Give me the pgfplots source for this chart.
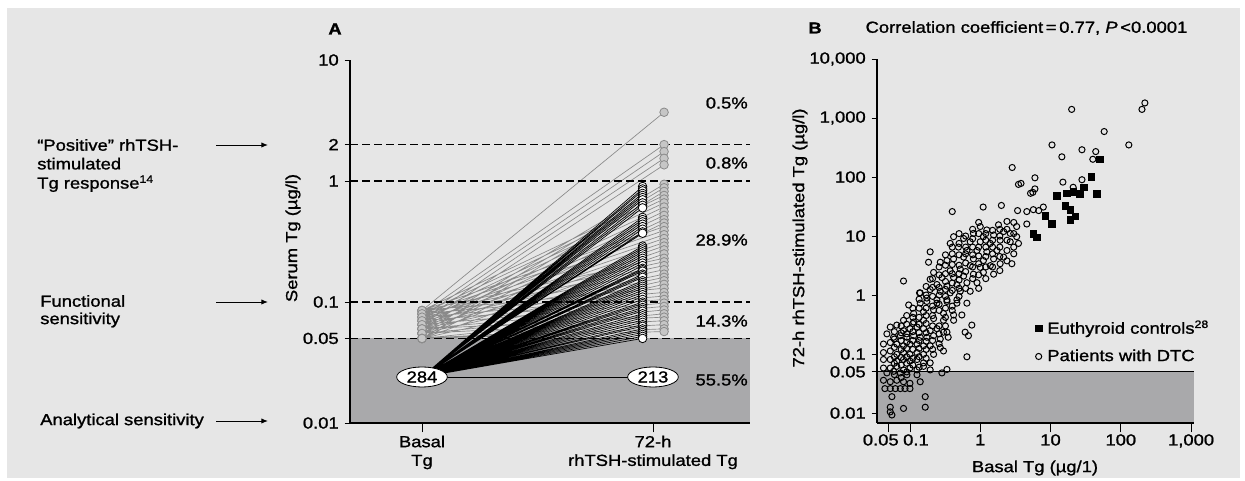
\documentclass[border=0pt]{standalone}
\usepackage{fontspec}
\setmainfont{Liberation Sans}[FakeStretch=1.15,FakeBold=1.2]
\usepackage{pgfplots}
\usepackage{pgfplotstable}
\pgfplotsset{compat=1.18}
\usetikzlibrary{shapes.geometric,arrows.meta}
\definecolor{panelbg}{HTML}{E6E6E6}
\definecolor{shade}{HTML}{A9A9AB}
\definecolor{gline}{HTML}{8A8A8A}
\definecolor{gfill}{HTML}{C6C6C6}
\newcommand\F{\fontsize{12}{14}\selectfont}

% Panel A: grey patients (basal detectable), pairs basal -> 72-h
\pgfplotstableread[row sep=\\]{
x y\\
0 0.085\\ 1.048 3.7\\ nan nan\\
0 0.08\\ 1.048 2.0\\ nan nan\\
0 0.075\\ 1.048 1.75\\ nan nan\\
0 0.07\\ 1.048 1.54\\ nan nan\\
0 0.065\\ 1.048 1.36\\ nan nan\\
0 0.06\\ 1.048 0.94\\ nan nan\\
0 0.055\\ 1.048 0.88\\ nan nan\\
0 0.05\\ 1.048 0.82\\ nan nan\\
0 0.085\\ 1.048 0.76\\ nan nan\\
0 0.08\\ 1.048 0.71\\ nan nan\\
0 0.075\\ 1.048 0.66\\ nan nan\\
0 0.07\\ 1.048 0.61\\ nan nan\\
0 0.065\\ 1.048 0.56\\ nan nan\\
0 0.06\\ 1.048 0.52\\ nan nan\\
0 0.055\\ 1.048 0.48\\ nan nan\\
0 0.05\\ 1.048 0.45\\ nan nan\\
0 0.085\\ 1.048 0.42\\ nan nan\\
0 0.08\\ 1.048 0.39\\ nan nan\\
0 0.075\\ 1.048 0.36\\ nan nan\\
0 0.07\\ 1.048 0.335\\ nan nan\\
0 0.065\\ 1.048 0.31\\ nan nan\\
0 0.06\\ 1.048 0.29\\ nan nan\\
0 0.055\\ 1.048 0.27\\ nan nan\\
0 0.05\\ 1.048 0.25\\ nan nan\\
0 0.085\\ 1.048 0.23\\ nan nan\\
0 0.08\\ 1.048 0.215\\ nan nan\\
0 0.075\\ 1.048 0.2\\ nan nan\\
0 0.07\\ 1.048 0.185\\ nan nan\\
0 0.065\\ 1.048 0.17\\ nan nan\\
0 0.06\\ 1.048 0.16\\ nan nan\\
0 0.055\\ 1.048 0.15\\ nan nan\\
0 0.05\\ 1.048 0.14\\ nan nan\\
0 0.085\\ 1.048 0.13\\ nan nan\\
0 0.08\\ 1.048 0.12\\ nan nan\\
0 0.075\\ 1.048 0.112\\ nan nan\\
0 0.07\\ 1.048 0.105\\ nan nan\\
0 0.065\\ 1.048 0.098\\ nan nan\\
0 0.06\\ 1.048 0.092\\ nan nan\\
0 0.055\\ 1.048 0.086\\ nan nan\\
0 0.05\\ 1.048 0.08\\ nan nan\\
0 0.06\\ 1.048 0.075\\ nan nan\\
0 0.055\\ 1.048 0.07\\ nan nan\\
0 0.05\\ 1.048 0.065\\ nan nan\\
0 0.05\\ 1.048 0.06\\ nan nan\\
0 0.05\\ 1.048 0.057\\ nan nan\\
}\greytab

% Panel A: black patients (basal undetectable), 0.024 -> 72-h
\pgfplotstableread[row sep=\\]{
x y\\
0 0.024\\ 0.955 0.90\\ nan nan\\
0 0.024\\ 0.955 0.86\\ nan nan\\
0 0.024\\ 0.955 0.83\\ nan nan\\
0 0.024\\ 0.955 0.79\\ nan nan\\
0 0.024\\ 0.955 0.76\\ nan nan\\
0 0.024\\ 0.955 0.73\\ nan nan\\
0 0.024\\ 0.955 0.70\\ nan nan\\
0 0.024\\ 0.955 0.66\\ nan nan\\
0 0.024\\ 0.955 0.63\\ nan nan\\
0 0.024\\ 0.955 0.60\\ nan nan\\
0 0.024\\ 0.955 0.50\\ nan nan\\
0 0.024\\ 0.955 0.48\\ nan nan\\
0 0.024\\ 0.955 0.46\\ nan nan\\
0 0.024\\ 0.955 0.44\\ nan nan\\
0 0.024\\ 0.955 0.42\\ nan nan\\
0 0.024\\ 0.955 0.40\\ nan nan\\
0 0.024\\ 0.955 0.38\\ nan nan\\
0 0.024\\ 0.955 0.37\\ nan nan\\
0 0.024\\ 0.955 0.29\\ nan nan\\
0 0.024\\ 0.955 0.28\\ nan nan\\
0 0.024\\ 0.955 0.27\\ nan nan\\
0 0.024\\ 0.955 0.26\\ nan nan\\
0 0.024\\ 0.955 0.25\\ nan nan\\
0 0.024\\ 0.955 0.24\\ nan nan\\
0 0.024\\ 0.955 0.23\\ nan nan\\
0 0.024\\ 0.955 0.22\\ nan nan\\
0 0.024\\ 0.955 0.21\\ nan nan\\
0 0.024\\ 0.955 0.20\\ nan nan\\
0 0.024\\ 0.955 0.19\\ nan nan\\
0 0.024\\ 0.955 0.185\\ nan nan\\
0 0.024\\ 0.955 0.18\\ nan nan\\
0 0.024\\ 0.955 0.17\\ nan nan\\
0 0.024\\ 0.955 0.165\\ nan nan\\
0 0.024\\ 0.955 0.16\\ nan nan\\
0 0.024\\ 0.955 0.15\\ nan nan\\
0 0.024\\ 0.955 0.145\\ nan nan\\
0 0.024\\ 0.955 0.14\\ nan nan\\
0 0.024\\ 0.955 0.135\\ nan nan\\
0 0.024\\ 0.955 0.13\\ nan nan\\
0 0.024\\ 0.955 0.125\\ nan nan\\
0 0.024\\ 0.955 0.12\\ nan nan\\
0 0.024\\ 0.955 0.115\\ nan nan\\
0 0.024\\ 0.955 0.11\\ nan nan\\
0 0.024\\ 0.955 0.105\\ nan nan\\
0 0.024\\ 0.955 0.10\\ nan nan\\
0 0.024\\ 0.955 0.097\\ nan nan\\
0 0.024\\ 0.955 0.094\\ nan nan\\
0 0.024\\ 0.955 0.09\\ nan nan\\
0 0.024\\ 0.955 0.087\\ nan nan\\
0 0.024\\ 0.955 0.084\\ nan nan\\
0 0.024\\ 0.955 0.08\\ nan nan\\
0 0.024\\ 0.955 0.077\\ nan nan\\
0 0.024\\ 0.955 0.074\\ nan nan\\
0 0.024\\ 0.955 0.071\\ nan nan\\
0 0.024\\ 0.955 0.068\\ nan nan\\
0 0.024\\ 0.955 0.065\\ nan nan\\
0 0.024\\ 0.955 0.063\\ nan nan\\
0 0.024\\ 0.955 0.06\\ nan nan\\
0 0.024\\ 0.955 0.058\\ nan nan\\
0 0.024\\ 0.955 0.056\\ nan nan\\
0 0.024\\ 0.955 0.054\\ nan nan\\
0 0.024\\ 0.955 0.052\\ nan nan\\
0 0.024\\ 0.955 0.05\\ nan nan\\
}\blacktab

% Panel B: patients with DTC
\pgfplotstableread[row sep=\\]{
x y\\
20 1400\\ 220 1800\\ 200 1400\\ 58 590\\ 130 350\\ 10.5 350\\ 28 290\\ 44 270\\
14.5 220\\ 40 200\\ 2.85 145\\ 6 97\\ 3.5 75\\ 3.8 78\\ 15 82\\ 28 90\\
6 63\\ 5.6 55\\ 5.2 53\\ 21 67\\ 1.1 31\\ 2 33\\ 0.4 26\\ 3.4 27\\
4.6 26\\ 5.7 28\\ 6.8 27\\ 7.9 31\\
1.0 14.5\\ 1.24 12.7\\ 1.82 15.5\\ 2.4 17.7\\ 3.3 14.5\\ 4.6 16\\ 2.15 11.9\\ 2.67 11.1\\
3.3 9.75\\ 1.55 10.4\\ 1.11 9.75\\ 0.80 11.1\\ 1.0 8.0\\ 1.39 7.5\\ 1.92 8.5\\ 2.67 8.0\\
3.5 7.5\\ 0.72 8.0\\ 0.58 9.1\\ 0.418 9.75\\ 0.374 7.5\\ 0.49 6.5\\ 0.646 5.7\\ 0.90 5.7\\
1.24 5.4\\ 1.73 5.7\\ 2.4 5.7\\ 2.15 4.4\\ 1.55 4.1\\ 1.11 3.85\\ 0.80 4.1\\ 0.58 4.4\\
0.418 4.1\\ 0.336 3.85\\ 0.27 3.6\\ 0.72 3.15\\ 1.0 2.95\\ 1.39 3.15\\ 1.92 3.4\\ 2.82 3.4\\
0.52 2.76\\ 0.374 2.58\\ 0.217 2.42\\ 0.285 1.98\\ 0.418 1.98\\ 0.58 2.1\\ 0.80 2.26\\ 1.11 2.42\\
1.55 2.26\\ 0.194 1.85\\ 0.242 1.51\\ 0.336 1.42\\ 0.466 1.51\\ 0.646 1.62\\ 0.90 1.62\\ 0.194 1.24\\
0.27 1.16\\ 0.374 1.09\\ 0.52 1.16\\ 0.72 1.16\\ 0.14 1.09\\ 0.174 0.89\\ 0.242 0.83\\ 0.336 0.83\\
0.466 0.83\\ 0.194 5.4\\ 0.184 3.6\\ 0.081 1.73\\ 0.137 1.09\\
0.096 0.68\\ 0.14 0.73\\ 0.174 0.78\\ 0.242 0.73\\ 0.336 0.78\\ 0.466 0.73\\ 0.646 0.73\\ 0.113 0.49\\
0.156 0.52\\ 0.217 0.56\\ 0.30 0.49\\ 0.418 0.46\\ 0.081 0.374\\ 0.113 0.35\\ 0.156 0.374\\ 0.217 0.40\\
0.30 0.374\\ 0.418 0.374\\ 0.548 0.46\\ 0.76 0.31\\ 0.61 0.235\\ 0.68 0.205\\ 0.336 0.235\\ 0.35 0.193\\
0.646 0.09\\ 0.336 0.055\\ 0.285 0.048\\ 0.0525 0.287\\ 0.065 0.31\\ 0.081 0.25\\ 0.10 0.27\\ 0.126 0.287\\
0.156 0.27\\ 0.194 0.25\\ 0.242 0.27\\ 0.30 0.235\\ 0.047 0.22\\ 0.0585 0.193\\ 0.073 0.205\\ 0.0905 0.193\\
0.113 0.205\\ 0.14 0.193\\ 0.174 0.193\\ 0.217 0.205\\ 0.27 0.18\\ 0.042 0.148\\ 0.0525 0.157\\ 0.065 0.148\\
0.081 0.138\\ 0.10 0.148\\ 0.126 0.148\\ 0.156 0.138\\ 0.194 0.138\\ 0.27 0.129\\ 0.042 0.106\\ 0.0525 0.113\\
0.065 0.099\\ 0.081 0.106\\ 0.10 0.099\\ 0.126 0.106\\ 0.156 0.099\\ 0.217 0.099\\ 0.30 0.113\\ 0.042 0.081\\
0.0525 0.081\\ 0.065 0.076\\ 0.081 0.081\\ 0.10 0.076\\ 0.126 0.081\\ 0.156 0.071\\ 0.194 0.071\\ 0.042 0.058\\
0.0525 0.058\\ 0.065 0.062\\ 0.081 0.054\\ 0.10 0.058\\ 0.126 0.054\\ 0.156 0.062\\ 0.194 0.054\\ 0.047 0.048\\
0.0585 0.051\\ 0.073 0.048\\ 0.0905 0.0446\\ 0.126 0.0446\\ 0.042 0.036\\ 0.0525 0.034\\ 0.065 0.036\\ 0.081 0.034\\
0.10 0.032\\ 0.14 0.034\\ 0.044 0.026\\ 0.0525 0.026\\ 0.062 0.026\\ 0.073 0.026\\ 0.085 0.026\\ 0.10 0.026\\
0.0554 0.019\\ 0.165 0.019\\ 0.0525 0.0126\\ 0.081 0.012\\ 0.165 0.0126\\ 0.0525 0.0105\\ 0.0554 0.0093\\
0.06 0.045\\ 0.06 0.07\\ 0.06 0.09\\ 0.06 0.13\\ 0.06 0.18\\ 0.06 0.24\\
0.075 0.04\\ 0.075 0.065\\ 0.075 0.088\\ 0.075 0.12\\ 0.075 0.17\\ 0.075 0.23\\ 0.075 0.3\\
0.09 0.05\\ 0.09 0.07\\ 0.09 0.09\\ 0.09 0.125\\ 0.09 0.16\\ 0.09 0.22\\ 0.09 0.32\\ 0.09 0.45\\
0.11 0.065\\ 0.11 0.085\\ 0.11 0.12\\ 0.11 0.17\\ 0.11 0.24\\ 0.11 0.33\\ 0.11 0.42\\ 0.11 0.6\\
0.135 0.06\\ 0.135 0.09\\ 0.135 0.125\\ 0.135 0.17\\ 0.135 0.23\\ 0.135 0.32\\ 0.135 0.42\\ 0.135 0.6\\ 0.135 0.85\\
0.17 0.085\\ 0.17 0.12\\ 0.17 0.165\\ 0.17 0.23\\ 0.17 0.33\\ 0.17 0.45\\ 0.17 0.6\\ 0.17 1.0\\ 0.17 1.4\\
0.21 0.12\\ 0.21 0.17\\ 0.21 0.3\\ 0.21 0.45\\ 0.21 0.65\\ 0.21 0.95\\ 0.21 1.35\\ 0.21 1.9\\
0.26 0.15\\ 0.26 0.22\\ 0.26 0.3\\ 0.26 0.55\\ 0.26 0.7\\ 0.26 1.0\\ 0.26 1.35\\ 0.26 2.2\\ 0.26 3.0\\
0.32 0.3\\ 0.32 0.42\\ 0.32 0.6\\ 0.32 0.95\\ 0.32 1.25\\ 0.32 1.7\\ 0.32 2.3\\ 0.32 3.2\\ 0.32 4.8\\
0.4 0.55\\ 0.4 0.65\\ 0.4 1.2\\ 0.4 1.6\\ 0.4 2.3\\ 0.4 3.3\\ 0.4 5.0\\ 0.4 6.5\\
0.5 0.95\\ 0.5 1.3\\ 0.5 1.8\\ 0.5 2.3\\ 0.5 3.2\\ 0.5 4.8\\ 0.5 7.5\\ 0.5 11\\
0.62 1.3\\ 0.62 2.5\\ 0.62 3.5\\ 0.62 5.0\\ 0.62 6.5\\ 0.62 10\\
0.78 1.9\\ 0.78 3.0\\ 0.78 4.8\\ 0.78 6.5\\ 0.78 9.0\\ 0.78 13\\
0.95 1.3\\ 0.95 2.2\\ 0.95 3.4\\ 0.95 4.6\\ 0.95 6.5\\ 0.95 11\\ 0.95 17\\
1.2 1.9\\ 1.2 3.0\\ 1.2 4.5\\ 1.2 6.5\\ 1.2 8.5\\ 1.2 11\\
1.5 3.0\\ 1.5 5.0\\ 1.5 6.5\\ 1.5 8.5\\ 1.5 12.5\\
1.9 2.6\\ 1.9 4.5\\ 1.9 6.5\\ 1.9 10\\ 1.9 13\\
2.4 3.8\\ 2.4 8.5\\ 2.4 13\\
3 5.0\\ 3 6.5\\ 3 11\\ 3 17\\
}\dtctab

% Panel B: euthyroid controls
\pgfplotstableread[row sep=\\]{
x y\\
50 200\\ 38 100\\ 30 67\\ 26 52\\ 45 52\\ 12.3 48\\ 17 53\\ 21 57\\
16.2 32.5\\ 19 28\\ 22.4 21.7\\ 19 19\\ 8.4 22\\ 10.5 16\\ 5.7 11\\ 6.4 9.5\\
}\ctrltab

\begin{document}
\F
\begin{tikzpicture}
\fill[white] (0,0) rectangle (933.75pt,360.75pt);
\fill[panelbg] (5.25pt,2pt) rectangle (930pt,354.75pt);

% ---------------- Panel A ----------------
\begin{axis}[
  at={(262.5pt,43.5pt)}, anchor=south west,
  scale only axis, width=300pt, height=272.25pt,
  ymode=log, ymin=0.01, ymax=10, xmin=-0.3117, xmax=1.42,
  axis x line*=bottom, axis y line*=left,
  axis line style={-, line width=0.8pt},
  axis on top, clip=false,
  xtick={0,1}, xticklabels={{Basal\\Tg},{72-h\\rhTSH-stimulated Tg}},
  xticklabel style={align=center, font=\F, yshift=-1pt},
  ytick={0.01,0.05,0.1,1,2,10}, yticklabels={0.01,0.05,0.1,1,2,10},
  yticklabel style={font=\F},
  yminorticks=false,
  tick align=outside, tick style={black, line width=0.6pt},
  xtick style={/pgfplots/major tick length=7pt},
  ytick style={/pgfplots/major tick length=4pt},
  /pgf/number format/assume math mode=true,
]
\addplot[draw=none, fill=shade] coordinates {(-0.3117,0.01) (1.42,0.01) (1.42,0.05) (-0.3117,0.05)} -- cycle;
\addplot[gline, line width=0.5pt, mark=none, unbounded coords=jump] table {\greytab};
\addplot[black, line width=0.5pt, mark=none, unbounded coords=jump] table {\blacktab};
\addplot[black, line width=0.9pt, dash pattern=on 6pt off 3pt] coordinates {(-0.3117,2) (1.42,2)};
\addplot[black, line width=0.9pt, dash pattern=on 6pt off 3pt] coordinates {(-0.3117,1) (1.42,1)};
\addplot[black, line width=0.9pt, dash pattern=on 6pt off 3pt] coordinates {(-0.3117,0.1) (1.42,0.1)};
\addplot[black, line width=0.9pt, dash pattern=on 6pt off 3pt] coordinates {(-0.3117,0.05) (1.42,0.05)};
\addplot[black, line width=0.6pt, mark=none] coordinates {(0,0.024) (1,0.024)};
\addplot[only marks, mark=*, mark size=3.2pt, mark options={draw=gline, fill=gfill, line width=0.6pt}] table {\greytab};
\addplot[only marks, mark=*, mark size=3.2pt, mark options={draw=black, fill=white, line width=0.6pt}, restrict x to domain=0.5:2] table {\blacktab};
\node[draw=black, line width=0.6pt, fill=white, ellipse, minimum width=38pt, minimum height=15pt, inner sep=0pt, font=\F] at (axis cs:0,0.024) {284};
\node[draw=black, line width=0.6pt, fill=white, ellipse, minimum width=38pt, minimum height=15pt, inner sep=0pt, font=\F] at (axis cs:1,0.024) {213};
\end{axis}

% ---------------- Panel B ----------------
\begin{axis}[
  at={(657.75pt,43.5pt)}, anchor=south west,
  scale only axis, width=237.75pt, height=273pt,
  xmode=log, ymode=log, xmin=0.034, xmax=1100, ymin=0.0068, ymax=10000,
  axis x line*=bottom, axis y line*=left,
  axis line style={-, line width=0.8pt},
  axis on top, clip=false,
  xtick={0.05,0.1,1,10,100,1000},
  xticklabels={{0.05\hspace*{12pt}},{\hspace*{9pt}0.1},1,10,100,{1,000}},
  ytick={0.01,0.05,0.1,1,10,100,1000,10000}, yticklabels={0.01,0.05,0.1,1,10,100,{1,000},{10,000}},
  xticklabel style={font=\F}, yticklabel style={font=\F},
  xminorticks=false, yminorticks=false,
  tick align=outside, tick style={black, line width=0.6pt},
  xtick style={/pgfplots/major tick length=7pt},
  ytick style={/pgfplots/major tick length=4pt},
  /pgf/number format/assume math mode=true,
  legend style={draw=none, fill=none, at={(0.486,0.297)}, anchor=north west, font=\F, row sep=6pt},
  legend cell align=left,
]
\addlegendimage{only marks, mark=square*, mark size=2.5pt, black}
\addlegendentry{\hspace{2pt}Euthyroid controls\textsuperscript{28}}
\addlegendimage{only marks, mark=o, mark size=2.3pt, black, mark options={line width=0.75pt}}
\addlegendentry{\hspace{2pt}Patients with DTC}
\addplot[draw=none, fill=shade, forget plot] coordinates {(0.034,0.0068) (1100,0.0068) (1100,0.05) (0.034,0.05)} -- cycle;
\addplot[black, line width=0.8pt, forget plot] coordinates {(0.034,0.05) (1100,0.05)};
\addplot[only marks, mark=o, mark size=2.3pt, black, mark options={line width=0.75pt}, forget plot] table {\dtctab};
\addplot[only marks, mark=square*, mark size=2.5pt, black, forget plot] table {\ctrltab};
\end{axis}

% ---------------- Texts ----------------
\node[font=\bfseries\F] at (251.25pt,339pt) {A};
\node[font=\bfseries\F] at (611.25pt,339.75pt) {B};
\node[anchor=west, font=\F] at (645pt,339.75pt) {Correlation coefficient\,=\,0.77, \textit{P}\,<0.0001};
\node[rotate=90, font=\F] at (219.75pt,182.25pt) {Serum Tg (µg/l)};
\node[rotate=90, font=\F] at (600pt,182.25pt) {72-h rhTSH-stimulated Tg (µg/l)};
\node[font=\F] at (776.25pt,9.75pt) {Basal Tg (µg/1)};

\node[anchor=west, font=\F, inner sep=0pt] at (27.75pt,252pt) {``Positive'' rhTSH-};
\node[anchor=west, font=\F, inner sep=0pt] at (27.75pt,238pt) {stimulated};
\node[anchor=west, font=\F, inner sep=0pt] at (27.75pt,223pt) {Tg response\textsuperscript{14}};
\node[anchor=west, font=\F, inner sep=0pt] at (30pt,135pt) {Functional};
\node[anchor=west, font=\F, inner sep=0pt] at (30pt,120.75pt) {sensitivity};
\node[anchor=west, font=\F, inner sep=0pt] at (30pt,45pt) {Analytical sensitivity};
\draw[-{Latex[length=5pt,width=4pt]}, line width=0.7pt] (162pt,252pt) -- (201pt,252pt);
\draw[-{Latex[length=5pt,width=4pt]}, line width=0.7pt] (162pt,134.25pt) -- (201pt,134.25pt);
\draw[-{Latex[length=5pt,width=4pt]}, line width=0.7pt] (162pt,45pt) -- (201pt,45pt);

\node[anchor=east, font=\F, inner sep=0pt] at (561pt,283.5pt) {0.5\%};
\node[anchor=east, font=\F, inner sep=0pt] at (561pt,238.5pt) {0.8\%};
\node[anchor=east, font=\F, inner sep=0pt] at (561pt,180.75pt) {28.9\%};
\node[anchor=east, font=\F, inner sep=0pt] at (561pt,120pt) {14.3\%};
\node[anchor=east, font=\F, inner sep=0pt] at (561pt,75.75pt) {55.5\%};
\end{tikzpicture}
\end{document}
